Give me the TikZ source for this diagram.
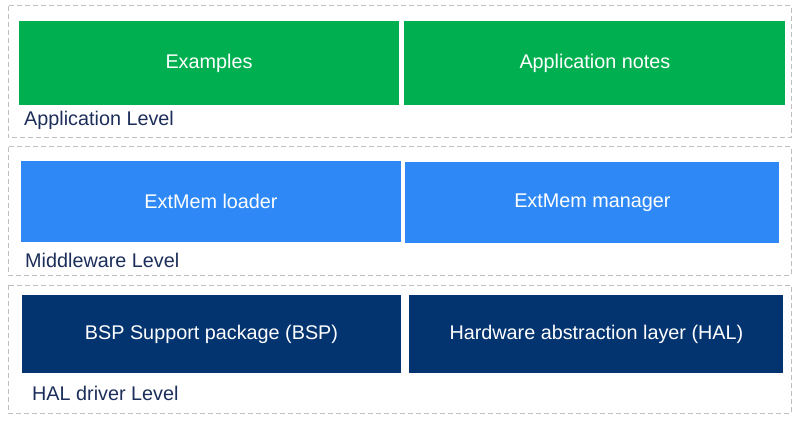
\documentclass[tikz,border=0pt]{standalone}
\usepackage{fontspec}
\setmainfont{Liberation Sans}
\usepackage{xcolor}
\usetikzlibrary{positioning}

\definecolor{appgreen}{HTML}{00B050}
\definecolor{midblue}{HTML}{2E89F6}
\definecolor{halnavy}{HTML}{033470}
\definecolor{lblnavy}{HTML}{1C2E5A}
\definecolor{framegray}{HTML}{BFBFBF}

\begin{document}
\begin{tikzpicture}[
        x=1pt, y=-1pt,
        blk/.style={minimum width=380pt, minimum height=84pt, inner sep=0pt,
                    text=white, font=\fontsize{19.8}{23}\selectfont},
        level/.style={draw=framegray, dash pattern=on 5pt off 3pt, line width=1pt},
        lvllabel/.style={anchor=west, inner sep=0pt, text=lblnavy,
                    font=\fontsize{19.8}{23}\selectfont},
    ]
        \useasboundingbox (0,0) rectangle (800,422);

        % application level
        \draw[level] (8,6) rectangle (791,138);
        \node[blk, fill=appgreen] (examples) at (209,63) {Examples};
        \node[blk, fill=appgreen, minimum width=381pt, right=5pt of examples] (notes) {Application notes};
        \node[lvllabel] (applbl) at (24,120) {Application Level};

        % middleware level
        \draw[level] (8,147) rectangle (791,275);
        \node[blk, fill=midblue, minimum height=81pt] (loader) at (211,201.5) {ExtMem loader};
        \node[blk, fill=midblue, minimum height=81pt, minimum width=374pt, right=4pt of loader, yshift=-1pt] (manager) {ExtMem manager};
        \node[lvllabel] (midlbl) at (25,260) {Middleware Level};

        % HAL driver level
        \draw[level] (8,285) rectangle (791,413);
        \node[blk, fill=halnavy, minimum height=78pt, minimum width=379pt] (bsp) at (211.5,334) {BSP Support package (BSP)};
        \node[blk, fill=halnavy, minimum height=78pt, minimum width=374pt, right=8pt of bsp] (hal) {Hardware abstraction layer (HAL)};
        \node[lvllabel] (hallbl) at (32,393) {HAL driver Level};
    \end{tikzpicture}
\end{document}
